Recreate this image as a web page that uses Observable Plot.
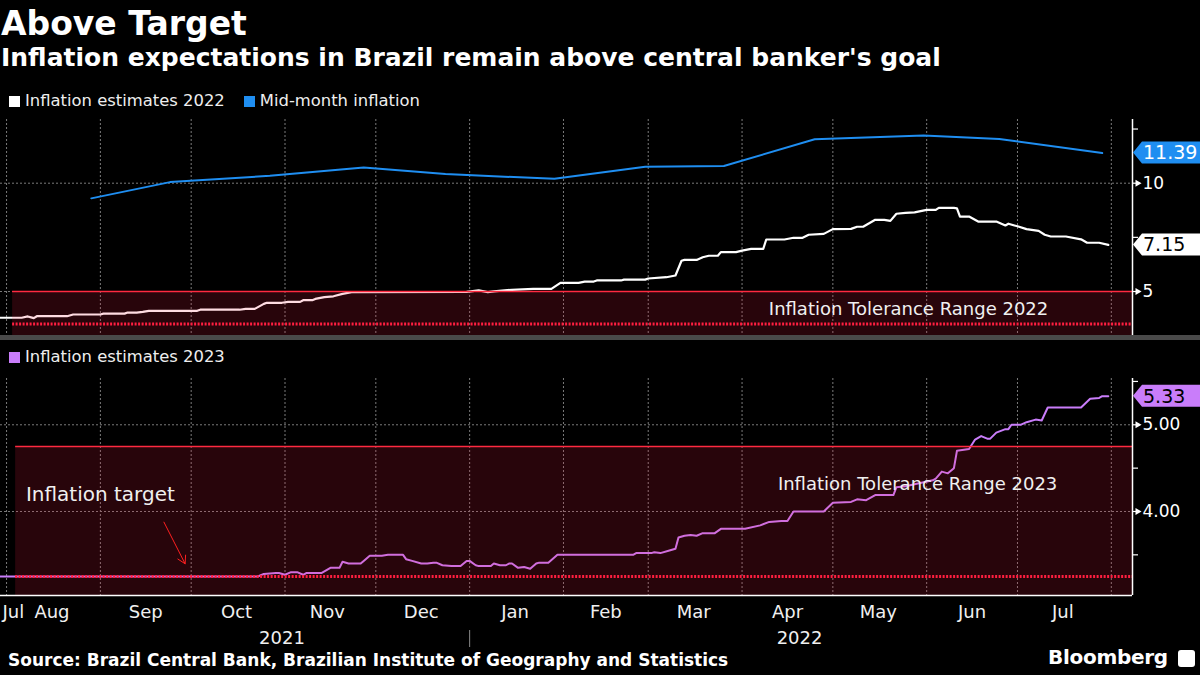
<!DOCTYPE html>
<html>
<head>
<meta charset="utf-8">
<script src="https://cdn.jsdelivr.net/npm/d3@7"></script>
<script src="https://cdn.jsdelivr.net/npm/@observablehq/plot@0.6"></script>
<style>
html,body{margin:0;padding:0;background:#000;}
#root{position:relative;width:1200px;height:675px;background:#000;color:#fff;font-family:"DejaVu Sans",sans-serif;overflow:hidden;}
.abs{position:absolute;white-space:nowrap;}
#title{left:1px;top:4px;font-size:33px;font-weight:bold;line-height:40px;}
#subtitle{left:1px;top:43px;font-size:25px;font-weight:bold;line-height:30px;}
.legend{position:absolute;left:9px;font-size:16.4px;line-height:20px;display:flex;align-items:center;color:#eee;}
.sw{display:inline-block;width:11px;height:11px;margin-right:5px;}
.gap{display:inline-block;width:19px;}
#sep{left:0;top:335px;width:1200px;height:5px;background:#4a4a4a;}
#source{left:8px;top:650px;font-size:17px;font-weight:bold;line-height:20px;}
#bbg{left:1048px;top:645px;font-size:20px;font-weight:bold;line-height:24px;letter-spacing:-0.3px;}
#icon{left:1178px;top:650px;width:17px;height:17px;background:#fff;border-radius:3px;}
#chartTop{left:0;top:110px;}
#chartBot{left:0;top:370px;}
</style>
</head>
<body>
<div id="root">
  <div id="title" class="abs">Above Target</div>
  <div id="subtitle" class="abs">Inflation expectations in Brazil remain above central banker's goal</div>
  <div class="legend" style="top:91px;"><span class="sw" style="background:#fff"></span>Inflation estimates 2022<span class="gap"></span><span class="sw" style="background:#1f8ef1"></span>Mid-month inflation</div>
  <div id="chartTop" class="abs"></div>
  <div id="sep" class="abs"></div>
  <div class="legend" style="top:347px;"><span class="sw" style="background:#c97dfa"></span>Inflation estimates 2023</div>
  <div id="chartBot" class="abs"></div>
  <div id="source" class="abs">Source: Brazil Central Bank, Brazilian Institute of Geography and Statistics</div>
  <div id="bbg" class="abs">Bloomberg</div>
  <div id="icon" class="abs"></div>
</div>
<script>
// ---------------- DATA ----------------
const xDomainDates = ["2021-07-30", "2022-08-08"];

const est2022Dates = ["2021-07-30","2021-08-06","2021-08-08","2021-08-10","2021-08-11","2021-08-21","2021-08-23","2021-09-01","2021-09-02","2021-09-09","2021-09-10","2021-09-13","2021-09-15","2021-09-17","2021-10-03","2021-10-04","2021-10-17","2021-10-19","2021-10-22","2021-10-25","2021-10-26","2021-10-31","2021-11-02","2021-11-06","2021-11-07","2021-11-10","2021-11-11","2021-11-14","2021-11-17","2021-11-20","2021-11-23","2021-12-31","2022-01-04","2022-01-07","2022-01-09","2022-01-15","2022-01-22","2022-01-28","2022-01-31","2022-02-06","2022-02-08","2022-02-11","2022-02-12","2022-02-20","2022-02-21","2022-02-28","2022-03-01","2022-03-07","2022-03-10","2022-03-12","2022-03-13","2022-03-17","2022-03-19","2022-03-21","2022-03-24","2022-03-25","2022-03-30","2022-04-01","2022-04-04","2022-04-08","2022-04-09","2022-04-15","2022-04-18","2022-04-21","2022-04-23","2022-04-28","2022-05-01","2022-05-07","2022-05-09","2022-05-11","2022-05-15","2022-05-18","2022-05-20","2022-05-22","2022-05-25","2022-05-28","2022-06-01","2022-06-04","2022-06-05","2022-06-10","2022-06-11","2022-06-12","2022-06-15","2022-06-18","2022-06-24","2022-06-27","2022-06-28","2022-06-30","2022-07-01","2022-07-04","2022-07-08","2022-07-10","2022-07-12","2022-07-17","2022-07-22","2022-07-24","2022-07-28","2022-07-31"];
const est2022Values = [3.79,3.79,3.85,3.77,3.86,3.86,3.94,3.94,3.98,3.98,4.03,4.03,4.06,4.11,4.11,4.16,4.16,4.20,4.20,4.43,4.48,4.48,4.52,4.52,4.60,4.60,4.66,4.74,4.78,4.89,4.97,4.98,5.05,4.97,5.01,5.08,5.12,5.12,5.40,5.40,5.46,5.46,5.51,5.51,5.55,5.55,5.60,5.66,5.74,6.42,6.46,6.46,6.58,6.65,6.65,6.82,6.82,6.89,6.97,6.97,7.40,7.40,7.48,7.48,7.62,7.66,7.88,7.89,7.99,7.99,8.31,8.31,8.26,8.59,8.63,8.65,8.77,8.77,8.86,8.86,8.84,8.46,8.46,8.23,8.23,8.05,8.13,8.05,8.01,7.88,7.80,7.62,7.54,7.54,7.41,7.25,7.25,7.15];

const midDates = ["2021-08-29","2021-09-24","2021-10-27","2021-11-27","2021-12-24","2022-01-29","2022-02-28","2022-03-26","2022-04-25","2022-05-31","2022-06-25","2022-07-29"];
const midValues = [9.30,10.05,10.34,10.73,10.42,10.20,10.76,10.79,12.03,12.20,12.04,11.39];

const est2023Dates = ["2021-07-30","2021-10-23","2021-10-25","2021-10-29","2021-10-30","2021-11-01","2021-11-03","2021-11-05","2021-11-07","2021-11-08","2021-11-13","2021-11-16","2021-11-19","2021-11-20","2021-11-22","2021-11-26","2021-11-27","2021-11-29","2021-12-03","2021-12-05","2021-12-10","2021-12-11","2021-12-13","2021-12-16","2021-12-18","2021-12-20","2021-12-21","2021-12-23","2021-12-26","2021-12-29","2021-12-31","2022-01-01","2022-01-03","2022-01-04","2022-01-08","2022-01-09","2022-01-11","2022-01-13","2022-01-14","2022-01-15","2022-01-17","2022-01-19","2022-01-21","2022-01-23","2022-01-24","2022-01-27","2022-01-30","2022-02-24","2022-02-25","2022-03-02","2022-03-03","2022-03-05","2022-03-08","2022-03-10","2022-03-11","2022-03-13","2022-03-15","2022-03-17","2022-03-19","2022-03-23","2022-03-25","2022-04-02","2022-04-07","2022-04-10","2022-04-14","2022-04-16","2022-04-18","2022-04-28","2022-05-01","2022-05-07","2022-05-09","2022-05-12","2022-05-15","2022-05-21","2022-05-22","2022-05-25","2022-06-03","2022-06-04","2022-06-06","2022-06-08","2022-06-10","2022-06-11","2022-06-15","2022-06-17","2022-06-19","2022-06-21","2022-06-22","2022-06-24","2022-06-27","2022-06-28","2022-06-29","2022-07-02","2022-07-04","2022-07-07","2022-07-09","2022-07-11","2022-07-22","2022-07-25","2022-07-28","2022-07-29","2022-07-31"];
const est2023Values = [3.25,3.25,3.28,3.29,3.29,3.27,3.30,3.30,3.27,3.29,3.29,3.35,3.35,3.42,3.40,3.40,3.43,3.49,3.49,3.50,3.50,3.45,3.43,3.40,3.40,3.41,3.41,3.38,3.37,3.37,3.43,3.43,3.38,3.37,3.37,3.40,3.38,3.38,3.40,3.40,3.35,3.36,3.34,3.40,3.41,3.41,3.50,3.50,3.52,3.52,3.53,3.52,3.55,3.57,3.70,3.72,3.73,3.72,3.75,3.75,3.80,3.80,3.84,3.88,3.89,3.89,4.00,4.00,4.10,4.11,4.14,4.13,4.19,4.19,4.28,4.29,4.36,4.38,4.46,4.44,4.50,4.70,4.72,4.83,4.87,4.84,4.84,4.91,4.95,4.95,5.00,5.00,5.03,5.06,5.05,5.20,5.20,5.30,5.31,5.33,5.33];

// Tolerance ranges (target +/- 1.5)
const target2022 = 3.5, upper2022 = 5.0, lower2022 = 2.0, bandStart2022 = "2021-08-03";
const target2023 = 3.25, upper2023 = 4.75, lower2023 = 1.75, bandStart2023 = "2021-08-04";

const yDomainTop = [2.97, 12.94];
const yDomainBot = [3.031, 5.534];
const yTicksTop = [5, 10];
const yMinorTop = [7.5, 12.5];
const yTicksBot = [4, 5];
const yMinorBot = [3.5, 4.5, 5.5];

const monthStartDates = ["2021-08-01","2021-09-01","2021-10-01","2021-11-01","2021-12-01","2022-01-01","2022-02-01","2022-03-01","2022-04-01","2022-05-01","2022-06-01","2022-07-01","2022-08-01"];
const monthNames = ["Jul","Aug","Sep","Oct","Nov","Dec","Jan","Feb","Mar","Apr","May","Jun","Jul"];
const monthLabelDates = ["2021-07-30","2021-08-16","2021-09-16","2021-10-16","2021-11-15","2021-12-16","2022-01-16","2022-02-15","2022-03-16","2022-04-16","2022-05-16","2022-06-16","2022-07-16"];
const yearNames = ["2021","2022"];
const yearLabelDates = ["2021-10-31","2022-04-20"];
const yearBreakDate = "2022-01-01";

const rangeLabels = ["Inflation Tolerance Range 2022", "Inflation Tolerance Range 2023"];
const rangeLabelDates = ["2022-05-26", "2022-05-29"];
const rangeLabelValues = [4.19, 4.32];
const targetLabel = "Inflation target";
const targetLabelDate = "2021-09-01", targetLabelValue = 4.2;
const arrowFrom = {date: "2021-09-22", value: 3.877};
const arrowTo = {date: "2021-09-29", value: 3.397};

// ---------------- COLORS ----------------
const WHITE = "#ffffff", BLUE = "#1f8ef1", PURPLE = "#c97dfa";
const BAND = "rgb(255,30,70)", RED = "#ff2a40", REDDOT = "#ff1f40";
const GRID = "#7a7a7a", TEXT = "#f0f0f0";

// ---------------- BUILD ----------------
const parse = d3.utcParse("%Y-%m-%d");
const xDomain = xDomainDates.map(parse);
const est22 = est2022Dates.map((d, i) => ({date: parse(d), value: est2022Values[i]}));
const mid = midDates.map((d, i) => ({date: parse(d), value: midValues[i]}));
const est23 = est2023Dates.map((d, i) => ({date: parse(d), value: est2023Values[i]}));
const monthStarts = monthStartDates.map(parse);
const monthLabels = monthNames.map((m, i) => ({date: parse(monthLabelDates[i]), name: m}));
const yearLabels = yearNames.map((y, i) => ({date: parse(yearLabelDates[i]), name: y}));

function tag(value, fill, textFill) {
  return (index, scales, values, dimensions) => {
    const y = scales.y(value);
    const x0 = dimensions.width - dimensions.marginRight + 1;
    const g = d3.create("svg:g");
    g.append("path")
      .attr("d", `M${x0},${y} L${x0 + 9},${y - 11} H${x0 + 70} V${y + 11} H${x0 + 9} Z`)
      .attr("fill", fill);
    g.append("text")
      .attr("x", x0 + 10).attr("y", y).attr("dy", "0.36em")
      .attr("text-anchor", "start")
      .attr("fill", textFill).attr("font-size", 19)
      .attr("font-family", "DejaVu Sans")
      .text(d3.format(".2f")(value));
    return g.node();
  };
}

const commonStyle = {background: "transparent", color: "#fff", fontFamily: "DejaVu Sans", fontSize: "17px", overflow: "visible"};

const topChart = Plot.plot({
  width: 1200, height: 225,
  marginLeft: 0, marginRight: 68, marginTop: 9, marginBottom: 0,
  style: commonStyle,
  x: {type: "utc", domain: xDomain, axis: null},
  y: {domain: yDomainTop},
  marks: [
    Plot.ruleX(monthStarts, {stroke: GRID, strokeDasharray: "2,2", strokeWidth: 1}),
    Plot.ruleY(yTicksTop, {stroke: GRID, strokeDasharray: "2,2", strokeWidth: 1}),
    Plot.line(est22, {x: "date", y: "value", stroke: WHITE, strokeWidth: 2.2}),
    Plot.line(mid, {x: "date", y: "value", stroke: BLUE, strokeWidth: 2}),
    Plot.rect([{s: parse(bandStart2022), e: xDomain[1], lo: lower2022, hi: upper2022}],
      {x1: "s", x2: "e", y1: "lo", y2: "hi", fill: BAND, fillOpacity: 0.155, clip: true}),
    Plot.ruleY([upper2022], {x1: parse(bandStart2022), x2: xDomain[1], stroke: RED, strokeWidth: 1.5}),
    Plot.ruleY([target2022], {x1: parse(bandStart2022), x2: xDomain[1], stroke: REDDOT, strokeWidth: 3.2, strokeDasharray: "2,1.5"}),
    Plot.text([0], {x: () => parse(rangeLabelDates[0]), y: () => rangeLabelValues[0], text: () => rangeLabels[0], fill: TEXT, fontSize: 18, textAnchor: "middle", lineAnchor: "middle"}),
    Plot.ruleX([xDomain[1]], {stroke: "#fff", strokeWidth: 1.5}),
    Plot.axisY({anchor: "right", ticks: yMinorTop, tickSize: 5, tickFormat: () => "", strokeWidth: 1.2}),
    Plot.axisY({anchor: "right", ticks: yTicksTop, tickSize: 7, tickPadding: 3, fontSize: 17, strokeWidth: 1.2}),
    Plot.dot(yTicksTop, {x: () => xDomain[1], y: d => d, symbol: "triangle", rotate: 90, r: 2.6, dx: 5, fill: "#fff", stroke: null}),
    tag(midValues[midValues.length - 1], BLUE, "#fff"),
    tag(est2022Values[est2022Values.length - 1], "#fff", "#000")
  ]
});
document.getElementById("chartTop").appendChild(topChart);

const botChart = Plot.plot({
  width: 1200, height: 275,
  marginLeft: 0, marginRight: 68, marginTop: 8, marginBottom: 50,
  style: commonStyle,
  x: {type: "utc", domain: xDomain},
  y: {domain: yDomainBot},
  marks: [
    Plot.ruleX(monthStarts, {stroke: GRID, strokeDasharray: "2,2", strokeWidth: 1}),
    Plot.ruleY(yTicksBot, {stroke: GRID, strokeDasharray: "2,2", strokeWidth: 1}),
    Plot.line(est23, {x: "date", y: "value", stroke: PURPLE, strokeWidth: 2}),
    Plot.rect([{s: parse(bandStart2023), e: xDomain[1], lo: lower2023, hi: upper2023}],
      {x1: "s", x2: "e", y1: "lo", y2: "hi", fill: BAND, fillOpacity: 0.155, clip: true}),
    Plot.ruleY([upper2023], {x1: parse(bandStart2023), x2: xDomain[1], stroke: RED, strokeWidth: 1.5}),
    Plot.ruleY([target2023], {x1: parse(bandStart2023), x2: xDomain[1], stroke: REDDOT, strokeWidth: 3.2, strokeDasharray: "2,1.5"}),
    Plot.text([0], {x: () => parse(rangeLabelDates[1]), y: () => rangeLabelValues[1], text: () => rangeLabels[1], fill: TEXT, fontSize: 18, textAnchor: "middle", lineAnchor: "middle"}),
    Plot.text([0], {x: () => parse(targetLabelDate), y: () => targetLabelValue, text: () => targetLabel, fill: TEXT, fontSize: 20, textAnchor: "middle", lineAnchor: "middle"}),
    Plot.arrow([0], {x1: () => parse(arrowFrom.date), y1: () => arrowFrom.value, x2: () => parse(arrowTo.date), y2: () => arrowTo.value, stroke: "#ff2020", strokeWidth: 1, headLength: 13, bend: 0}),
    Plot.ruleX([xDomain[1]], {stroke: "#fff", strokeWidth: 1.5}),
    Plot.ruleY([yDomainBot[0]], {stroke: "#fff", strokeWidth: 1.5}),
    Plot.axisY({anchor: "right", ticks: yMinorBot, tickSize: 5, tickFormat: () => "", strokeWidth: 1.2}),
    Plot.axisY({anchor: "right", ticks: yTicksBot, tickSize: 7, tickPadding: 3, fontSize: 17, tickFormat: d3.format(".2f"), strokeWidth: 1.2}),
    Plot.dot(yTicksBot, {x: () => xDomain[1], y: d => d, symbol: "triangle", rotate: 90, r: 2.6, dx: 5, fill: "#fff", stroke: null}),
    Plot.text(monthLabels.slice(0, 1), {x: "date", text: "name", frameAnchor: "bottom", dy: 22, dx: 2, lineAnchor: "bottom", textAnchor: "start", fontSize: 18, fill: TEXT}),
    Plot.text(monthLabels.slice(1), {x: "date", text: "name", frameAnchor: "bottom", dy: 22, lineAnchor: "bottom", textAnchor: "middle", fontSize: 18, fill: TEXT}),
    Plot.text(yearLabels, {x: "date", text: "name", frameAnchor: "bottom", dy: 48, lineAnchor: "bottom", textAnchor: "middle", fontSize: 18, fill: TEXT}),
    Plot.axisX({ticks: [parse(yearBreakDate)], tickSize: 17, tickFormat: () => "", dy: 35, stroke: "#8a8a8a"}),
    tag(est2023Values[est2023Values.length - 1], PURPLE, "#000")
  ]
});
document.getElementById("chartBot").appendChild(botChart);
</script>
</body>
</html>
